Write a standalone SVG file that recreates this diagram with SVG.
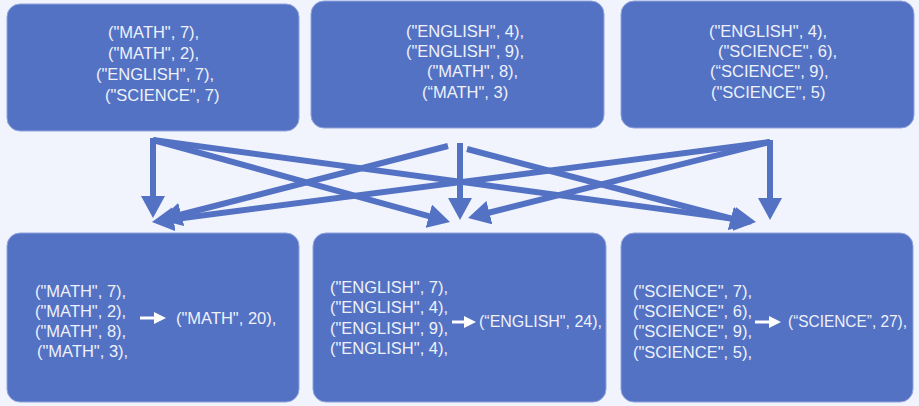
<svg xmlns="http://www.w3.org/2000/svg" width="919" height="406" viewBox="0 0 919 406">
  <defs>
    <style>
      .box { fill: #5472c4; stroke: #8ea2dc; stroke-width: 1; }
      .t { font-family: "Liberation Sans", Arial, sans-serif; font-size: 16.5px; fill: #eef1fa; }
      .conn { stroke: #5472c4; stroke-width: 6; fill: none; marker-end: url(#ah); }
      .wa { stroke: #ffffff; stroke-width: 3; fill: none; marker-end: url(#wh); }
    </style>
    <marker id="ah" markerUnits="userSpaceOnUse" viewBox="0 0 22 24" markerWidth="22" markerHeight="24" refX="14" refY="12" orient="auto">
      <path d="M0,0 L22,12 L0,24 z" fill="#5472c4"/>
    </marker>
    <marker id="wh" markerUnits="userSpaceOnUse" viewBox="0 0 12 12" markerWidth="12" markerHeight="12" refX="4" refY="6" orient="auto">
      <path d="M0,0 L12,6 L0,12 z" fill="#ffffff"/>
    </marker>
  </defs>
  <rect x="0" y="0" width="919" height="406" fill="#f2f4fd"/>

  <g id="map1">
    <rect class="box" x="7" y="4" width="292" height="127" rx="13"/>
    <text class="t">
      <tspan x="108" y="38">("MATH", 7),</tspan>
      <tspan x="108" y="59">("MATH", 2),</tspan>
      <tspan x="96" y="80">("ENGLISH", 7),</tspan>
      <tspan x="105" y="101">("SCIENCE", 7)</tspan>
    </text>
  </g>

  <g id="map2">
    <rect class="box" x="311" y="1" width="293" height="127" rx="13"/>
    <text class="t">
      <tspan x="406" y="37">("ENGLISH", 4),</tspan>
      <tspan x="406" y="57">("ENGLISH", 9),</tspan>
      <tspan x="427" y="77">("MATH", 8),</tspan>
      <tspan x="422" y="98">(“MATH", 3)</tspan>
    </text>
  </g>

  <g id="map3">
    <rect class="box" x="621" y="1" width="293" height="127" rx="13"/>
    <text class="t">
      <tspan x="709" y="37">("ENGLISH", 4),</tspan>
      <tspan x="718" y="57">("SCIENCE", 6),</tspan>
      <tspan x="710" y="77">(“SCIENCE", 9),</tspan>
      <tspan x="711" y="98">("SCIENCE", 5)</tspan>
    </text>
  </g>

  <g id="reduce1">
    <rect class="box" x="7" y="233" width="292" height="169" rx="13"/>
    <text class="t">
      <tspan x="35" y="297">("MATH", 7),</tspan>
      <tspan x="35" y="317">("MATH", 2),</tspan>
      <tspan x="35" y="337">("MATH", 8),</tspan>
      <tspan x="37" y="357">("MATH", 3),</tspan>
    </text>
    <line class="wa" x1="140" y1="318" x2="158" y2="318"/>
    <text class="t" x="176" y="324">("MATH", 20),</text>
  </g>

  <g id="reduce2">
    <rect class="box" x="313" y="233" width="293" height="169" rx="13"/>
    <text class="t">
      <tspan x="330" y="293">("ENGLISH", 7),</tspan>
      <tspan x="330" y="313">("ENGLISH", 4),</tspan>
      <tspan x="330" y="334">("ENGLISH", 9),</tspan>
      <tspan x="330" y="354">("ENGLISH", 4),</tspan>
    </text>
    <line class="wa" x1="452" y1="322" x2="468" y2="322"/>
    <text class="t" x="479" y="327" textLength="123" lengthAdjust="spacingAndGlyphs">(“ENGLISH", 24),</text>
  </g>

  <g id="reduce3">
    <rect class="box" x="621" y="233" width="292" height="169" rx="13"/>
    <text class="t">
      <tspan x="633" y="297">("SCIENCE", 7),</tspan>
      <tspan x="633" y="317">("SCIENCE", 6),</tspan>
      <tspan x="633" y="337">("SCIENCE", 9),</tspan>
      <tspan x="633" y="358">("SCIENCE", 5),</tspan>
    </text>
    <line class="wa" x1="755" y1="322" x2="773" y2="322"/>
    <text class="t" x="788" y="327" textLength="119" lengthAdjust="spacingAndGlyphs">(“SCIENCE”, 27),</text>
  </g>

  <g id="connectors">
    <line class="conn" x1="153" y1="138" x2="153" y2="210"/>
    <line class="conn" x1="153" y1="140" x2="442.3" y2="219.9"/>
    <line class="conn" x1="153" y1="140" x2="748.1" y2="220.9"/>
    <line class="conn" x1="448" y1="146" x2="167.7" y2="218"/>
    <line class="conn" x1="460" y1="143" x2="460" y2="212"/>
    <line class="conn" x1="467" y1="149" x2="744.3" y2="222"/>
    <line class="conn" x1="770" y1="140" x2="770" y2="212"/>
    <line class="conn" x1="770" y1="142" x2="475.8" y2="216"/>
    <line class="conn" x1="770" y1="142" x2="159.9" y2="221"/>
  </g>
</svg>
